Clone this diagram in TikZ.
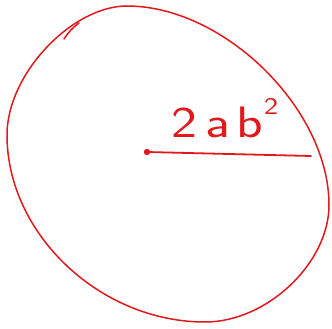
\documentclass[tikz,border=0pt]{standalone}
\usepackage{xcolor}
\definecolor{inkred}{RGB}{226,24,28}
\usetikzlibrary{positioning}

\begin{document}
\begin{tikzpicture}[
  x=1pt,y=-1pt,
  pen/.style={draw=inkred,line width=1.5pt,line cap=round,line join=round},
  lbl/.style={text=inkred,font=\sffamily\fontsize{44}{44}\selectfont,inner sep=0pt}
]
  \useasboundingbox (0,0) rectangle (332,329);
  % Outline (hand drawn circle)
  \coordinate (top) at (127,6);
  \coordinate (right) at (329,205);
  \coordinate (bottom) at (205,322);
  \coordinate (left) at (7,135);
  \draw[pen] (top) .. controls (224,6) and (329,109) .. (right)
    .. controls (329,263) and (267,322) .. (bottom)
    .. controls (100,322) and (7,234) .. (left)
    .. controls (7,74) and (72,6) .. (top);
  % Start stroke of the outline
  \coordinate (hookA) at (64,39);
  \coordinate (hookB) at (79,23);
  \draw[pen] (hookA) to[bend left=10] (hookB);
  % Centre and radius
  \coordinate (centre) at (147,152);
  \coordinate (rim) at (311,156);
  \draw[pen,line width=1.8pt] (centre) -- (rim);
  \fill[inkred] (centre) circle (3.2);
  % Label
  \node[lbl,anchor=base] (rlabel) at (225,137) {\scalebox{1.25}[1]{2\kern6pt a\kern5pt b\kern1pt\raisebox{23pt}{\fontsize{24}{24}\selectfont 2}}};
\end{tikzpicture}
\end{document}
